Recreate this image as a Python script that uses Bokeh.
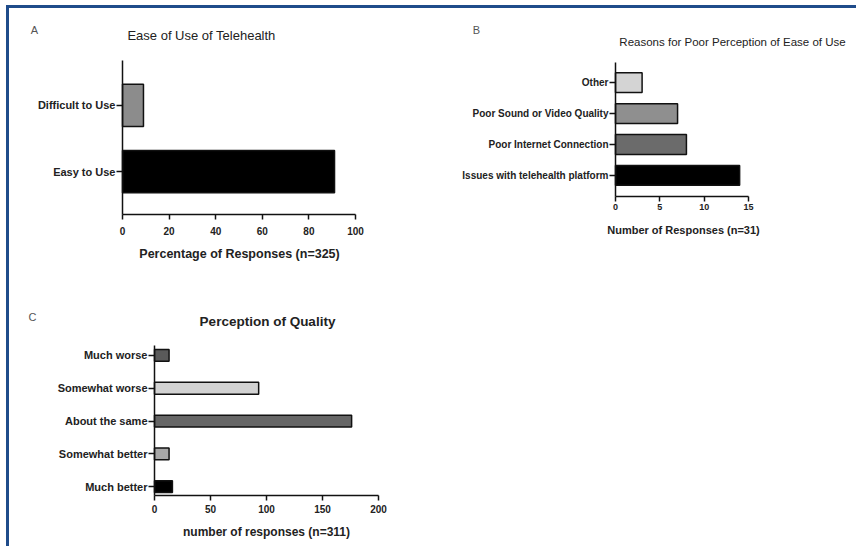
from bokeh.plotting import figure
from bokeh.models import FixedTicker, Range1d, Label, Spacer, ColumnDataSource
from bokeh.layouts import column, row
from bokeh.embed import file_html
from bokeh.resources import INLINE

# ---- Panel A: Ease of Use of Telehealth ----
a_categories = ["Easy to Use", "Difficult to Use"]
a_values = [91, 9]
a_colors = ["#000000", "#8c8c8c"]
a_ticks = [0, 20, 40, 60, 80, 100]

# ---- Panel B: Reasons for Poor Perception of Ease of Use ----
b_categories = ["Issues with telehealth platform", "Poor Internet Connection",
                "Poor Sound or Video Quality", "Other"]
b_values = [14, 8, 7, 3]
b_colors = ["#000000", "#6b6b6b", "#8f8f8f", "#d4d4d4"]
b_ticks = [0, 5, 10, 15]

# ---- Panel C: Perception of Quality ----
c_categories = ["Much better", "Somewhat better", "About the same",
                "Somewhat worse", "Much worse"]
c_values = [16, 13, 176, 93, 13]
c_colors = ["#000000", "#a8a8a8", "#666666", "#d2d2d2", "#5a5a5a"]
c_ticks = [0, 50, 100, 150, 200]

FONT = "Liberation Sans"
TXT = "#222222"


def panel(box, axis_px, xmax, ystart, row_px, axis_top_px, cats, vals, colors,
          ticks, bar_h, cat_size, tick_size, tick_standoff):
    # box: canvas (left, top, right, bottom) in page pixels
    # axis_px: (pixel of x=0, pixel of x=xmax, pixel row of the x axis line)
    L, T, R, B = box
    x0, x1, yb = axis_px
    sx = (x1 - x0) / xmax
    y_lo = ystart - (B - yb) / row_px
    y_hi = ystart + (yb - T) / row_px
    ytop = ystart + (yb - axis_top_px) / row_px
    p = figure(width=R - L, height=B - T,
               x_range=Range1d((L - x0) / sx, (R - x0) / sx),
               y_range=Range1d(y_lo, y_hi), output_backend="svg",
               toolbar_location=None, min_border_left=0, min_border_right=0,
               min_border_top=0, min_border_bottom=0)
    p.outline_line_color = None
    p.grid.visible = False
    p.background_fill_color = "white"
    p.border_fill_color = "white"
    ys = list(range(1, len(cats) + 1))
    src = ColumnDataSource(dict(y=ys, right=vals, color=colors, cat=cats))
    p.hbar(y="y", left=0, right="right", height=bar_h, source=src,
           fill_color="color", line_color="#111111", line_width=1.5)
    # y axis (drawn at x = 0)
    p.yaxis.fixed_location = 0
    p.yaxis.bounds = (ystart, ytop)
    p.yaxis.ticker = FixedTicker(ticks=ys, minor_ticks=[])
    p.yaxis.major_label_overrides = {y: c for y, c in zip(ys, cats)}
    p.yaxis.major_label_text_font = FONT
    p.yaxis.major_label_text_font_style = "bold"
    p.yaxis.major_label_text_font_size = cat_size
    p.yaxis.major_label_text_color = TXT
    p.yaxis.major_tick_in = 0
    p.yaxis.major_tick_out = 6
    p.yaxis.major_label_standoff = 1
    p.yaxis.minor_tick_line_color = None
    # x axis (drawn at y = ystart)
    p.xaxis.fixed_location = ystart
    p.xaxis.bounds = (0, xmax)
    p.xaxis.ticker = FixedTicker(ticks=ticks, minor_ticks=[])
    p.xaxis.major_label_text_font = FONT
    p.xaxis.major_label_text_font_style = "bold"
    p.xaxis.major_label_text_font_size = tick_size
    p.xaxis.major_label_text_color = TXT
    p.xaxis.major_tick_in = 0
    p.xaxis.major_tick_out = 5
    p.xaxis.major_label_standoff = tick_standoff
    p.xaxis.minor_tick_line_color = None
    for ax in (p.xaxis, p.yaxis):
        ax.axis_line_width = 1.5
        ax.axis_line_color = "#111111"
        ax.major_tick_line_width = 1.5
        ax.major_tick_line_color = "#111111"
    p.tags = [L, B]
    return p


def add_text(p, px, py, text, size, style="normal", color=TXT):
    # px, py: page pixel position of the text centre
    L, B = p.tags
    p.add_layout(Label(x=px - L, y=B - py, x_units="screen", y_units="screen",
                       text=text, text_align="center", text_baseline="middle",
                       text_font=FONT, text_font_size=size,
                       text_font_style=style, text_color=color))


pA = panel((9, 8, 430, 280), (122, 355, 214), 100, 0.35, 66.1, 60,
           a_categories, a_values, a_colors, a_ticks, 0.64, "11px", "10px", 7)
add_text(pA, 34, 29, "A", "11px", color="#555555")
add_text(pA, 201, 35, "Ease of Use of Telehealth", "13px")
add_text(pA, 239, 253, "Percentage of Responses (n=325)", "12.5px", "bold")

pB = panel((430, 8, 856, 280), (615, 748, 196), 15, 0.32, 30.95, 62,
           b_categories, b_values, b_colors, b_ticks, 0.64, "10px", "9px", 2)
add_text(pB, 476, 29, "B", "11px", color="#555555")
add_text(pB, 732, 41, "Reasons for Poor Perception of Ease of Use", "11.5px")
add_text(pB, 683, 229, "Number of Responses (n=31)", "11px", "bold")

pC = panel((9, 280, 430, 546), (154, 378, 495), 200, 0.73, 32.8, 345,
           c_categories, c_values, c_colors, c_ticks, 0.36, "11px", "10px", 4)
add_text(pC, 32, 316, "C", "11px", color="#555555")
add_text(pC, 267, 321, "Perception of Quality", "13.5px", style="bold")
add_text(pC, 266, 531, "number of responses (n=311)", "12px", "bold")

layout = column(row(pA, pB), row(pC, Spacer(width=426, height=266)),
                margin=(5, 0, 0, 6),
                styles={"border-top": "3px solid #1f4c8a",
                        "border-left": "3px solid #1f4c8a"})

open("out.html", "w").write(file_html(layout, INLINE))
